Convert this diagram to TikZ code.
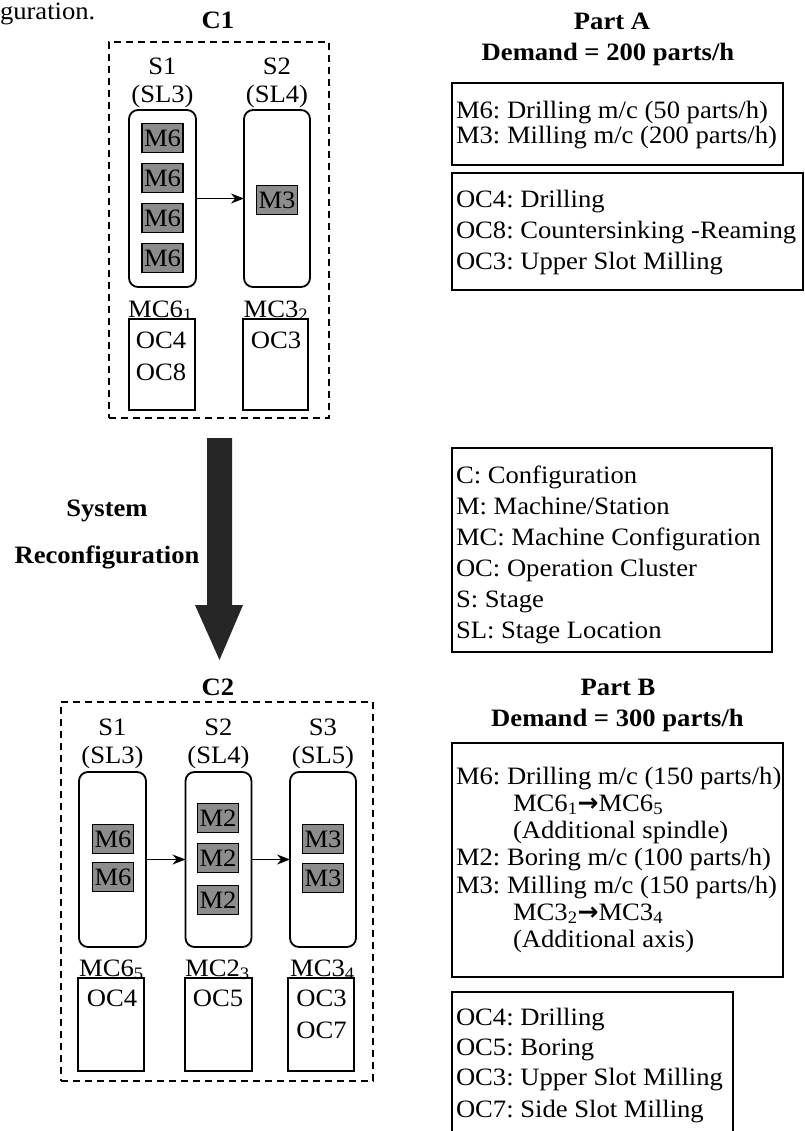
\documentclass[tikz,border=0pt]{standalone}
\usepackage{fontspec}
\setmainfont{Liberation Serif}[FakeStretch=1.065]
\newfontfamily\arrowfont{DejaVu Sans}
\usetikzlibrary{arrows.meta}
\frenchspacing
\begin{document}
\begin{tikzpicture}[x=1pt,y=-1pt,
  font=\fontsize{25}{27}\selectfont,
  every node/.style={inner sep=0pt, outer sep=0pt},
  txt/.style={anchor=base},
  ltxt/.style={anchor=base west},
  hdr/.style={anchor=base, font=\fontsize{25}{27}\selectfont\bfseries},
  dashbox/.style={draw, line width=1.8pt, dash pattern=on 7pt off 5pt},
  stagebox/.style={draw, line width=1.8pt, rounded corners=9pt},
  ocbox/.style={draw, line width=1.5pt},
  mbox/.style={draw, line width=1.8pt, fill=black!45, minimum width=41pt, minimum height=29pt},
  infobox/.style={draw, line width=1.5pt},
  flow/.style={-{Stealth[length=13pt,width=10pt]}, line width=1.3pt}
]
\useasboundingbox (0,0) rectangle (804,1131);

% caption fragment
\node[ltxt] (capfrag) at (0,20) {guration.};

% ---------------- C1 ----------------
\node[hdr] (c1lab) at (218,29) {C1};
\node[dashbox, minimum width=220pt, minimum height=376pt] (c1) at (219,230) {};
\node[txt] (c1s1a) at (162.5,75) {S1};
\node[txt] (c1s1b) at (162.5,103) {(SL3)};
\node[txt] (c1s2a) at (277,75) {S2};
\node[txt] (c1s2b) at (277,103) {(SL4)};
\node[stagebox, minimum width=67pt, minimum height=177pt] (c1st1) at (162.5,198.5) {};
\node[stagebox, minimum width=66pt, minimum height=177pt] (c1st2) at (277,198.5) {};
\node[mbox] (c1m1) at (162.5,138) {M6};
\node[mbox] (c1m2) at (162.5,178) {M6};
\node[mbox] (c1m3) at (162.5,218) {M6};
\node[mbox] (c1m4) at (162.5,258) {M6};
\node[mbox] (c1m5) at (277,200) {M3};
\draw[flow] (c1st1) -- (c1st2);
\node[txt] (c1mc1) at (160.5,317) {MC6\textsubscript{1}};
\node[txt] (c1mc2) at (276,317) {MC3\textsubscript{2}};
\node[ocbox, minimum width=66pt, minimum height=91pt] (c1oc1) at (162,364.5) {};
\node[ocbox, minimum width=65pt, minimum height=91pt] (c1oc2) at (275.5,364.5) {};
\node[txt] (c1o1) at (161,348) {OC4};
\node[txt] (c1o2) at (161,380) {OC8};
\node[txt] (c1o3) at (276,348) {OC3};

% ---------------- big arrow ----------------
\fill[black!85] (207,438) -- (232,438) -- (232,605) -- (243,605) -- (219.5,660)
  -- (195,605) -- (207,605) -- cycle;
\node[hdr] (sys) at (107,516) {System};
\node[hdr] (reconf) at (107,563) {Reconfiguration};

% ---------------- C2 ----------------
\node[hdr] (c2lab) at (218,695) {C2};
\node[dashbox, minimum width=312pt, minimum height=379pt] (c2) at (217,891.5) {};
\node[txt] (c2s1a) at (112.5,735) {S1};
\node[txt] (c2s1b) at (112.5,763) {(SL3)};
\node[txt] (c2s2a) at (218.5,735) {S2};
\node[txt] (c2s2b) at (218.5,763) {(SL4)};
\node[txt] (c2s3a) at (323,735) {S3};
\node[txt] (c2s3b) at (323,763) {(SL5)};
\node[stagebox, minimum width=67pt, minimum height=175pt] (c2st1) at (112.5,859.5) {};
\node[stagebox, minimum width=66pt, minimum height=175pt] (c2st2) at (218.5,859.5) {};
\node[stagebox, minimum width=66pt, minimum height=175pt] (c2st3) at (323,859.5) {};
\node[mbox] (c2m1) at (113,839) {M6};
\node[mbox] (c2m2) at (113,877) {M6};
\node[mbox] (c2m3) at (218,818) {M2};
\node[mbox] (c2m4) at (218,858) {M2};
\node[mbox] (c2m5) at (218,900) {M2};
\node[mbox] (c2m6) at (323,839) {M3};
\node[mbox] (c2m7) at (323,878) {M3};
\draw[flow] (c2st1) -- (c2st2);
\draw[flow] (c2st2) -- (c2st3);
\node[txt] (c2mc1) at (111.5,976) {MC6\textsubscript{5}};
\node[txt] (c2mc2) at (217.5,976) {MC2\textsubscript{3}};
\node[txt] (c2mc3) at (322.5,976) {MC3\textsubscript{4}};
\node[ocbox, minimum width=66pt, minimum height=93pt] (c2oc1) at (111,1024.5) {};
\node[ocbox, minimum width=67pt, minimum height=93pt] (c2oc2) at (218.5,1024.5) {};
\node[ocbox, minimum width=66pt, minimum height=93pt] (c2oc3) at (321,1024.5) {};
\node[txt] (c2o1) at (112,1006) {OC4};
\node[txt] (c2o2) at (218,1006) {OC5};
\node[txt] (c2o3) at (321.5,1006) {OC3};
\node[txt] (c2o4) at (321.5,1038) {OC7};

% ---------------- Part A ----------------
\node[hdr] (pa1) at (612,30) {Part A};
\node[hdr] (pa2) at (608,61) {Demand = 200 parts/h};
\node[infobox, minimum width=331pt, minimum height=82pt] (boxA1) at (617.5,124) {};
\node[ltxt] (a1l1) at (456,119) {M6: Drilling m/c (50 parts/h)};
\node[ltxt] (a1l2) at (456,144) {M3: Milling m/c (200 parts/h)};
\node[infobox, minimum width=351pt, minimum height=117pt] (boxA2) at (627.5,231.5) {};
\node[ltxt] (a2l1) at (456,208) {OC4: Drilling};
\node[ltxt] (a2l2) at (456,239) {OC8: Countersinking -Reaming};
\node[ltxt] (a2l3) at (456,270) {OC3: Upper Slot Milling};

% ---------------- Legend ----------------
\node[infobox, minimum width=320pt, minimum height=204pt] (legend) at (612,550) {};
\node[ltxt] (lg1) at (456,483) {C: Configuration};
\node[ltxt] (lg2) at (456,514) {M: Machine/Station};
\node[ltxt] (lg3) at (456,545) {MC: Machine Configuration};
\node[ltxt] (lg4) at (456,576) {OC: Operation Cluster};
\node[ltxt] (lg5) at (456,607) {S: Stage};
\node[ltxt] (lg6) at (456,638) {SL: Stage Location};

% ---------------- Part B ----------------
\node[hdr] (pb1) at (618,695) {Part B};
\node[hdr] (pb2) at (617.5,726) {Demand = 300 parts/h};
\node[infobox, minimum width=331pt, minimum height=234pt] (boxB1) at (617.5,860) {};
\node[ltxt] (b1l1) at (456,784) {M6: Drilling m/c (150 parts/h)};
\node[ltxt] (b1l2) at (513,811) {MC6\textsubscript{1}{\arrowfont\bfseries →}MC6\textsubscript{5}};
\node[ltxt] (b1l3) at (513,838) {(Additional spindle)};
\node[ltxt] (b1l4) at (456,865) {M2: Boring m/c (100 parts/h)};
\node[ltxt] (b1l5) at (456,893) {M3: Milling m/c (150 parts/h)};
\node[ltxt] (b1l6) at (513,920) {MC3\textsubscript{2}{\arrowfont\bfseries →}MC3\textsubscript{4}};
\node[ltxt] (b1l7) at (513,947) {(Additional axis)};
\draw[line width=1.5pt] (452,1135) -- (452,992) -- (733,992) -- (733,1135);
\node[ltxt] (b2l1) at (456,1025) {OC4: Drilling};
\node[ltxt] (b2l2) at (456,1055) {OC5: Boring};
\node[ltxt] (b2l3) at (456,1085) {OC3: Upper Slot Milling};
\node[ltxt] (b2l4) at (456,1117) {OC7: Side Slot Milling};
\end{tikzpicture}
\end{document}
